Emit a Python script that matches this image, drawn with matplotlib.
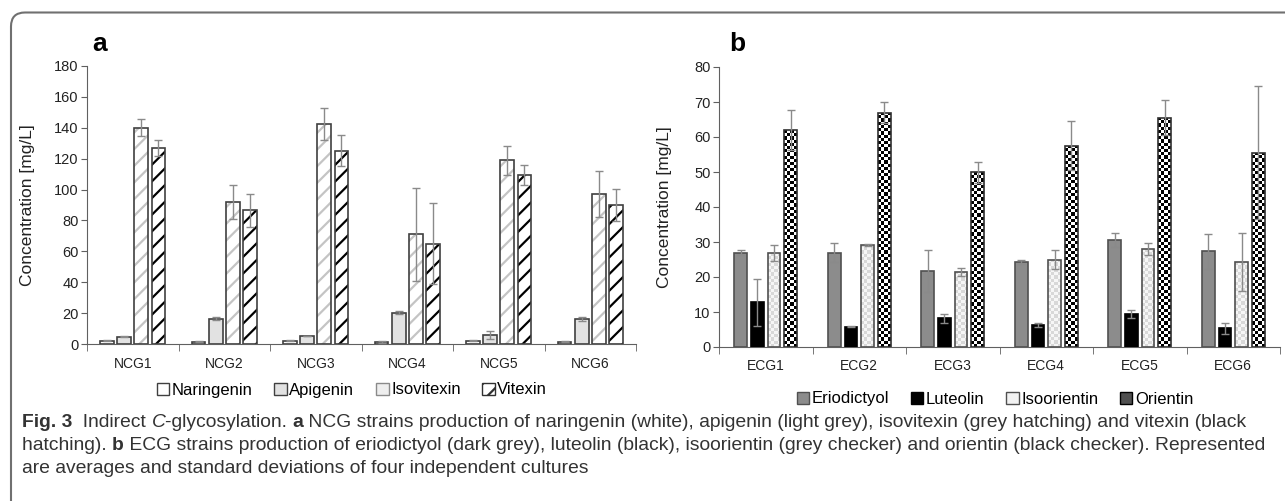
import numpy as np
import matplotlib
matplotlib.use("Agg")
import matplotlib.pyplot as plt
from matplotlib.patches import Patch, FancyBboxPatch
from matplotlib.colors import ListedColormap
from matplotlib.transforms import IdentityTransform
from matplotlib import font_manager

# data
ncg = ["NCG1", "NCG2", "NCG3", "NCG4", "NCG5", "NCG6"]
naringenin = [2.2, 1.5, 2.2, 1.2, 2.2, 1.5]
naringenin_sd = [0.3, 0.3, 0.3, 0.8, 0.5, 0.5]
apigenin = [4.8, 16.5, 5.2, 20.3, 5.8, 16.2]
apigenin_sd = [0.5, 1.0, 0.3, 0.8, 2.5, 1.2]
isovitexin = [140, 92, 142.5, 71, 119, 97]
isovitexin_sd = [5.5, 11, 10.5, 30, 9.5, 15]
vitexin = [127, 86.5, 125, 65, 109.5, 90]
vitexin_sd = [5, 10.5, 10, 26, 6.5, 10.5]

ecg = ["ECG1", "ECG2", "ECG3", "ECG4", "ECG5", "ECG6"]
eriodictyol = [27, 27, 21.7, 24.3, 30.5, 27.3]
eriodictyol_sd = [0.8, 2.6, 6, 0.7, 2, 5]
luteolin = [12.8, 5.8, 8.2, 6.3, 9.5, 5.3]
luteolin_sd = [6.7, 0.2, 1.2, 0.6, 1.2, 1.6]
isoorientin = [26.8, 29.2, 21.5, 25, 28, 24.2]
isoorientin_sd = [2.3, 0.2, 1.2, 2.8, 1.7, 8.3]
orientin = [62, 67, 50, 57.5, 65.5, 55.5]
orientin_sd = [5.8, 3, 3, 7, 5, 19]

W, H = 1285, 501
plt.rcParams['font.family'] = ['Liberation Sans', 'DejaVu Sans']
plt.rcParams['hatch.linewidth'] = 1.6

fig = plt.figure(figsize=(W / 100, H / 100), dpi=100)

# rounded frame, open to the right and bottom
fig.patches.append(FancyBboxPatch((11, -40), 1400, H - 12.5 + 40,
                                  boxstyle="round,pad=0,rounding_size=14",
                                  transform=IdentityTransform(), fill=False,
                                  edgecolor='#707070', lw=1.5))

ax_a = fig.add_axes([87 / W, 157 / H, (636 - 87) / W, 278 / H])
ax_b = fig.add_axes([719 / W, 154 / H, (1280 - 719) / W, 280 / H])

edge = '#404040'
ekw = dict(ecolor='#8a8a8a', elinewidth=1, capsize=3, capthick=1, fmt='none', zorder=5)


def style_axis(ax, cats, ymax, ystep):
    ax.set_xlim(-0.5, len(cats) - 0.5)
    ax.set_ylim(0, ymax)
    ax.set_yticks(np.arange(0, ymax + 1, ystep))
    ax.set_xticks(np.arange(len(cats)))
    ax.set_xticklabels(cats)
    ax.set_xticks(np.arange(len(cats) + 1) - 0.5, minor=True)
    ax.tick_params(axis='x', which='major', length=0, pad=9, labelsize=10, labelcolor='#222222')
    ax.tick_params(axis='x', which='minor', length=5, color='#606060')
    ax.tick_params(axis='y', length=4, pad=2, labelsize=10.5, color='#606060', labelcolor='#222222')
    for s in ['top', 'right']:
        ax.spines[s].set_visible(False)
    for s in ['left', 'bottom']:
        ax.spines[s].set_color('#606060')
    ax.set_ylabel("Concentration [mg/L]", fontsize=12.5, color='#222222')


def checker(ax, bars, c1, c2, cell=3.2):
    for b in bars:
        x0, y0, w, h = b.get_x(), b.get_y(), b.get_width(), b.get_height()
        p0 = ax.transData.transform((x0, y0))
        p1 = ax.transData.transform((x0 + w, y0 + h))
        nx = max(1, int(round((p1[0] - p0[0]) / cell)))
        ny = max(1, int(round((p1[1] - p0[1]) / cell)))
        grid = np.indices((ny, nx)).sum(axis=0) % 2
        im = ax.imshow(grid, cmap=ListedColormap([c1, c2]), extent=(x0, x0 + w, y0, y0 + h),
                       interpolation='nearest', aspect='auto', origin='lower', zorder=2)
        im.set_clip_path(b)


# ---- panel a ----
x = np.arange(len(ncg))
wa, sa = 0.148, 0.186
style_axis(ax_a, ncg, 180, 20)
ax_a.bar(x - 1.5 * sa, naringenin, wa, color='white', edgecolor=edge, lw=1.2, zorder=3)
ax_a.bar(x - 0.5 * sa, apigenin, wa, color='#e2e2e2', edgecolor=edge, lw=1.2, zorder=3)
ax_a.bar(x + 0.5 * sa, isovitexin, wa, color='white', edgecolor='#c4c4c4', hatch='//', lw=0, zorder=2)
ax_a.bar(x + 0.5 * sa, isovitexin, wa, color='none', edgecolor=edge, lw=1.2, zorder=3)
ax_a.bar(x + 1.5 * sa, vitexin, wa, color='white', edgecolor='black', hatch='//', lw=0, zorder=2)
ax_a.bar(x + 1.5 * sa, vitexin, wa, color='none', edgecolor=edge, lw=1.2, zorder=3)
for k, (v, e) in enumerate([(naringenin, naringenin_sd), (apigenin, apigenin_sd),
                            (isovitexin, isovitexin_sd), (vitexin, vitexin_sd)]):
    ax_a.errorbar(x + (k - 1.5) * sa, v, yerr=e, **ekw)
ax_a.yaxis.set_label_coords(-0.095, 0.5)

# ---- panel b ----
wb, sb = 0.135, 0.178
style_axis(ax_b, ecg, 80, 10)
ax_b.bar(x - 1.5 * sb, eriodictyol, wb, color='#8c8c8c', edgecolor='#505050', lw=1.2, zorder=3)
ax_b.bar(x - 0.5 * sb, luteolin, wb, color='black', edgecolor='black', lw=1.2, zorder=3)
iso_bars = ax_b.bar(x + 0.5 * sb, isoorientin, wb, color='none', edgecolor='#505050', lw=1.2, zorder=3)
ori_bars = ax_b.bar(x + 1.5 * sb, orientin, wb, color='none', edgecolor='#303030', lw=1.2, zorder=3)
checker(ax_b, iso_bars, '#f6f6f6', '#d8d8d8')
checker(ax_b, ori_bars, 'white', 'black')
for k, (v, e) in enumerate([(eriodictyol, eriodictyol_sd), (luteolin, luteolin_sd),
                            (isoorientin, isoorientin_sd), (orientin, orientin_sd)]):
    ax_b.errorbar(x + (k - 1.5) * sb, v, yerr=e, **ekw)
ax_b.set_xlim(-0.5, 5.5)
ax_b.set_ylim(0, 80)
ax_b.yaxis.set_label_coords(-0.083, 0.5)

# panel letters
fig.text(100 / W, 1 - 44 / H, "a", fontsize=19, fontweight='bold', ha='center', va='center')
fig.text(737 / W, 1 - 44 / H, "b", fontsize=19, fontweight='bold', ha='center', va='center')

# legends
lkw = dict(loc='center', ncol=4, frameon=False, fontsize=12, handlelength=0.75, handleheight=0.75,
           handletextpad=0.15, columnspacing=1.3, borderaxespad=0)
h_a = [Patch(facecolor='white', edgecolor=edge),
       Patch(facecolor='#e2e2e2', edgecolor=edge),
       Patch(facecolor='#eeeeee', edgecolor='#8a8a8a'),
       Patch(facecolor='white', edgecolor='#303030', hatch='//')]
fig.legend(h_a, ["Naringenin", "Apigenin", "Isovitexin", "Vitexin"],
           bbox_to_anchor=(352 / W, 1 - 390 / H), **lkw)
h_b = [Patch(facecolor='#8c8c8c', edgecolor='#505050'),
       Patch(facecolor='black', edgecolor='black'),
       Patch(facecolor='#f2f2f2', edgecolor='#505050'),
       Patch(facecolor='#505050', edgecolor='black')]
fig.legend(h_b, ["Eriodictyol", "Luteolin", "Isoorientin", "Orientin"],
           bbox_to_anchor=(995 / W, 1 - 399 / H), **lkw)

# caption
names = {f.name for f in font_manager.fontManager.ttflist}
cap_font = ['Liberation Sans Narrow', 'DejaVu Sans'] if 'Liberation Sans Narrow' in names \
    else ['Liberation Sans', 'DejaVu Sans']
cap_color = '#333333'
lines = [
    [("Fig. 3", 'bold', 'normal'), ("  Indirect ", 'normal', 'normal'), ("C", 'normal', 'italic'),
     ("-glycosylation. ", 'normal', 'normal'), ("a", 'bold', 'normal'),
     (" NCG strains production of naringenin (white), apigenin (light grey), isovitexin (grey hatching) and vitexin (black",
      'normal', 'normal')],
    [("hatching). ", 'normal', 'normal'), ("b", 'bold', 'normal'),
     (" ECG strains production of eriodictyol (dark grey), luteolin (black), isoorientin (grey checker) and orientin (black checker). Represented",
      'normal', 'normal')],
    [("are averages and standard deviations of four independent cultures", 'normal', 'normal')],
]
renderer = fig.canvas.get_renderer()


def line_width(runs, size):
    total = 0
    for txt, wt, st in runs:
        t = fig.text(0, 0, txt, fontsize=size, fontweight=wt, fontstyle=st, family=cap_font)
        total += t.get_window_extent(renderer).width
        t.remove()
    return total


widest = max(line_width(r, 11) for r in lines)
cap_size = 11 * 1240 / widest
for runs, yb in zip(lines, [427, 450, 473]):
    xp = 22
    for txt, wt, st in runs:
        t = fig.text(xp / W, 1 - yb / H, txt, fontsize=cap_size, fontweight=wt, fontstyle=st,
                     family=cap_font, va='baseline', color=cap_color)
        xp += t.get_window_extent(renderer).width

fig.savefig("out.png", dpi=100)
